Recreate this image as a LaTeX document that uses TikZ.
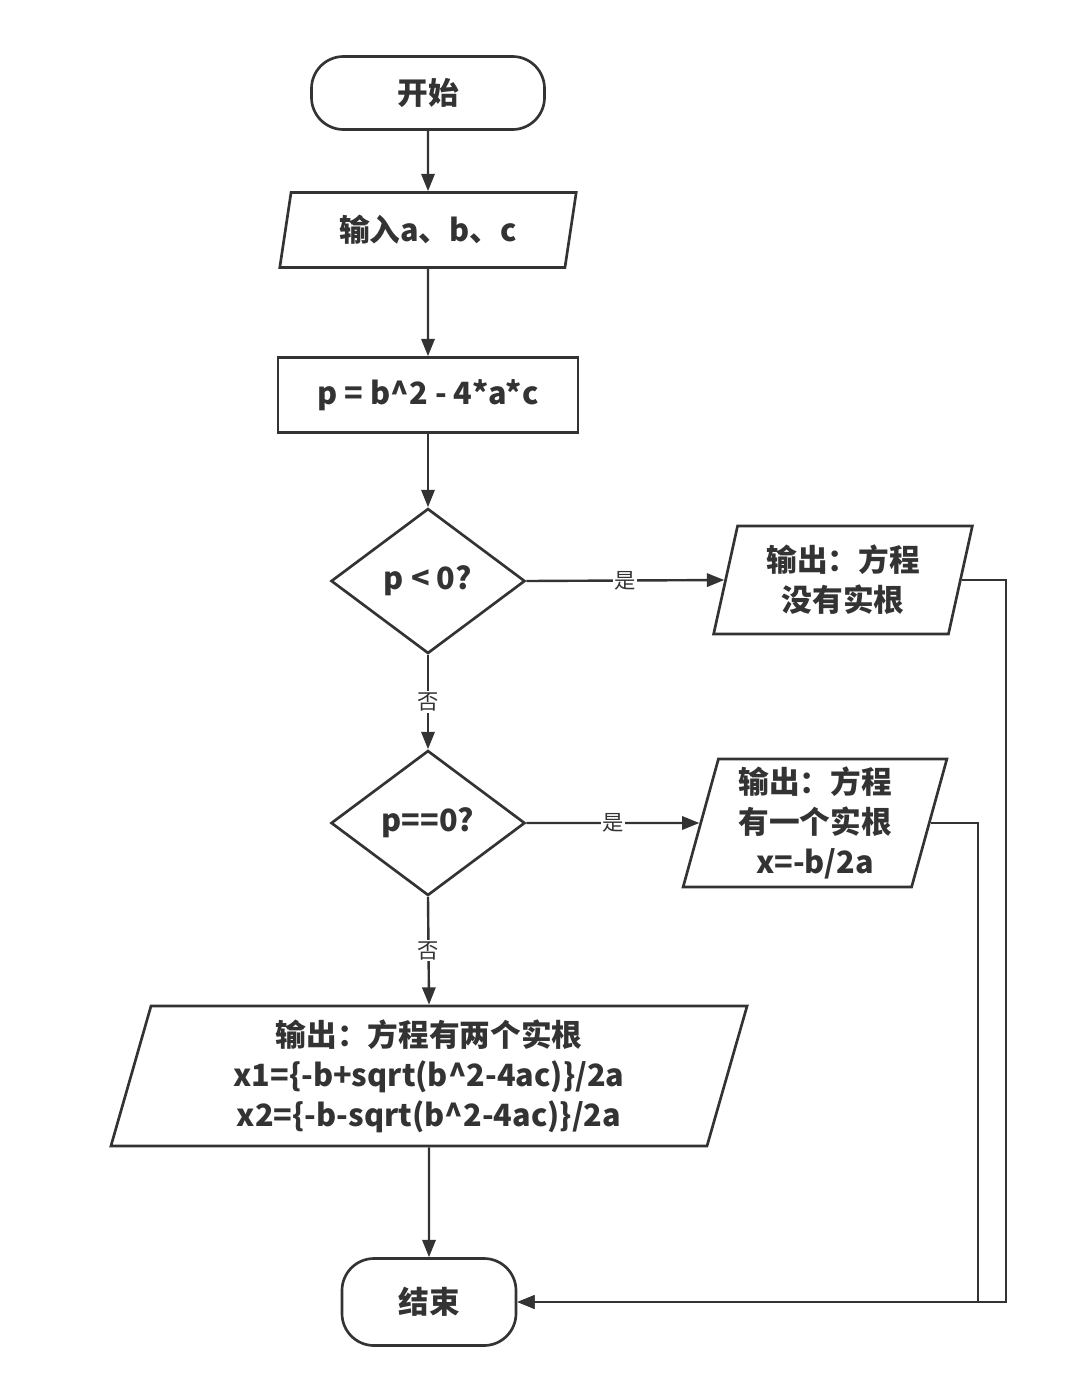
\documentclass[tikz,border=0pt]{standalone}
\usepackage{fontspec}
\setmainfont{Noto Sans CJK SC}
\usetikzlibrary{shapes.geometric,arrows.meta}

\definecolor{ink}{HTML}{333333}

\begin{document}
\begin{tikzpicture}[x=0.75pt,y=-0.75pt,
    every node/.style={font=\fontsize{23}{30}\selectfont\bfseries,text=ink,inner sep=0pt,align=center},
    box/.style={draw=ink,line width=2pt},
    term/.style={box,rectangle,rounded corners=24pt},
    proc/.style={box,rectangle},
    io/.style={box,trapezium,trapezium left angle=76,trapezium right angle=104,trapezium stretches=true},
    cond/.style={box,diamond},
    line/.style={draw=ink,line width=1.8pt,-{Triangle[length=13pt,width=10pt]}},
    lbl/.style={fill=white,font=\fontsize{16}{16}\selectfont,inner sep=1pt}]

    \useasboundingbox (0,0) rectangle (1069,1379);

    \node[term,minimum width=174.75pt,minimum height=54.75pt] (start) at (428,93) {开始};
    \node[io,minimum width=222.75pt,minimum height=56.25pt] (input) at (428,230) {输入a、b、c};
    \node[proc,minimum width=225pt,minimum height=56.25pt] (calc) at (428,395) {p = b\textasciicircum 2 - 4*a*c};
    \node[cond,minimum width=145.5pt,minimum height=108.75pt] (neg) at (428,581) {p < 0?};
    \node[cond,minimum width=145.5pt,minimum height=108.75pt] (zero) at (428,823) {p==0?};
    \node[io,minimum width=194.25pt,minimum height=81pt] (none) at (843,580) {输出：方程\\没有实根};
    \node[io,minimum width=198pt,minimum height=96pt] (one) at (815,823) {输出：方程\\有一个实根\\x=-b/2a};
    \node[io,minimum width=477.75pt,minimum height=105pt] (two) at (429,1076)
        {输出：方程有两个实根\\x1=\{-b+sqrt(b\textasciicircum 2-4ac)\}/2a\\x2=\{-b-sqrt(b\textasciicircum 2-4ac)\}/2a};
    \node[term,minimum width=130.5pt,minimum height=65.25pt] (stop) at (429,1302) {结束};

    \coordinate (r1) at (1006,1302);
    \coordinate (r2) at (978,1302);

    \draw[line] (start) -- (input);
    \draw[line] (input) -- (calc);
    \draw[line] (calc) -- (neg);
    \draw[line] (neg.east) -- node[lbl] {是} (none.west);
    \draw[line] (neg.south) -- node[lbl] {否} (zero.north);
    \draw[line] (zero.east) -- node[lbl] {是} (one.west);
    \draw[line] (zero.south) -- node[lbl] {否} (two.north);
    \draw[line] (two.south) -- (stop.north);

    % back to the end
    \draw[line] (none.east) -| (r1) -- (stop.east);
    \draw[line] (one.east) -| (r2) -- (stop.east);

\end{tikzpicture}
\end{document}
